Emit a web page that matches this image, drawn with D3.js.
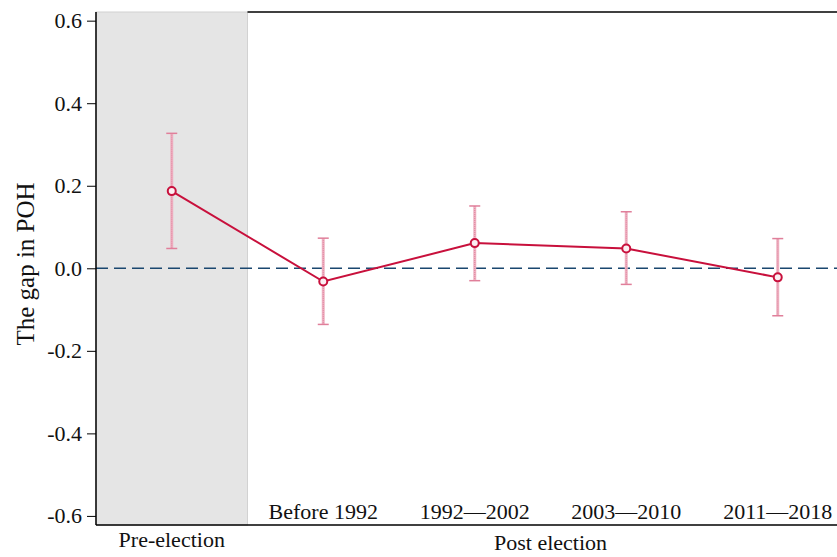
<!DOCTYPE html>
<html>
<head>
<meta charset="utf-8">
<script src="https://cdn.jsdelivr.net/npm/d3@7"></script>
<style>
  body { margin: 0; background: #fff; }
  svg { display: block; }
  text { font-family: "Palatino Linotype", "Book Antiqua", Palatino, "Liberation Serif", serif; fill: #111; }
</style>
</head>
<body>
<svg class="chart"></svg>
<script>
// Categories along the x axis and the group they belong to
var categories = ["Pre-election", "Before 1992", "1992\u20142002", "2003\u20142010", "2011\u20142018"];
var groups = ["Pre-election", "Post election", "Post election", "Post election", "Post election"];

// Point estimates and confidence bounds
var estimates = [0.187, -0.032, 0.061, 0.048, -0.022];
var upper = [0.327, 0.073, 0.151, 0.137, 0.072];
var lower = [0.048, -0.136, -0.030, -0.039, -0.115];

// Y axis ticks
var yTicks = [-0.6, -0.4, -0.2, 0.0, 0.2, 0.4, 0.6];

var width = 837, height = 557;
var margin = {left: 96, top: 12, bottom: 32};
var bandW = 151.5;
var fontSize = "22px";

var svg = d3.select(".chart")
    .attr("width", width)
    .attr("height", height);

var x = d3.scaleBand()
    .domain(categories)
    .range([margin.left, margin.left + bandW * categories.length])
    .padding(0);

var y = d3.scaleLinear()
    .domain([-0.622, 0.621])
    .range([height - margin.bottom, margin.top]);

var cx = function(d, i) { return x(categories[i]) + x.bandwidth() / 2; };

// Shaded pre-election region
svg.append("rect")
    .attr("x", x(categories[0]))
    .attr("y", y(0.621))
    .attr("width", x.bandwidth())
    .attr("height", y(-0.622) - y(0.621))
    .attr("fill", "#e5e5e5")
    .attr("stroke", "#d2d2d2")
    .attr("stroke-width", 1);

// Top frame line over the post-election area
svg.append("line")
    .attr("x1", x(categories[1]))
    .attr("x2", width)
    .attr("y1", y(0.621))
    .attr("y2", y(0.621))
    .attr("stroke", "#000")
    .attr("stroke-width", 1.5);

// Zero reference line
svg.append("line")
    .attr("x1", margin.left)
    .attr("x2", width)
    .attr("y1", y(0))
    .attr("y2", y(0))
    .attr("stroke", "#1a476f")
    .attr("stroke-width", 1.5)
    .attr("stroke-dasharray", "12,6");

// Y axis
var yAxis = svg.append("g")
    .attr("transform", "translate(" + margin.left + ",0)")
    .call(d3.axisLeft(y).tickValues(yTicks).tickSize(9).tickPadding(5)
        .tickFormat(function(d) { return d.toFixed(1); }));
yAxis.attr("font-family", null).attr("font-size", null);
yAxis.select(".domain").attr("stroke", "#000").attr("stroke-width", 1.5)
    .attr("d", "M0," + y(0.621) + "V" + y(-0.622));
yAxis.selectAll(".tick line").attr("stroke", "#000").attr("stroke-width", 1);
yAxis.selectAll(".tick text")
    .style("font-size", fontSize)
    .attr("fill", "#111");

// Bottom axis line
svg.append("line")
    .attr("x1", margin.left)
    .attr("x2", width)
    .attr("y1", y(-0.622))
    .attr("y2", y(-0.622))
    .attr("stroke", "#000")
    .attr("stroke-width", 1.5);

// Y axis title
svg.append("text")
    .attr("transform", "translate(34,264) rotate(-90)")
    .attr("text-anchor", "middle")
    .style("font-size", "25px")
    .text("The gap in POH");

// Category labels: post-election periods sit inside the plot, above the axis
svg.selectAll(".cat")
    .data(categories)
    .enter().append("text")
    .attr("class", "cat")
    .attr("x", function(d) { return x(d) + x.bandwidth() / 2; })
    .attr("y", function(d, i) { return groups[i] === "Pre-election" ? 547 : 519; })
    .attr("text-anchor", "middle")
    .style("font-size", fontSize)
    .text(function(d) { return d; });

// Group label for post-election periods
var post = categories.filter(function(d, i) { return groups[i] === "Post election"; });
svg.append("text")
    .attr("x", (x(post[0]) + x(post[post.length - 1]) + x.bandwidth()) / 2)
    .attr("y", 550)
    .attr("text-anchor", "middle")
    .style("font-size", fontSize)
    .text("Post election");

// Error bars
var bars = svg.append("g");
bars.selectAll(".ci")
    .data(estimates)
    .enter().append("line")
    .attr("x1", cx).attr("x2", cx)
    .attr("y1", function(d, i) { return y(upper[i]); })
    .attr("y2", function(d, i) { return y(lower[i]); })
    .attr("stroke", "#eeb3c3")
    .attr("stroke-width", 3);
bars.selectAll(".ci2")
    .data(estimates)
    .enter().append("line")
    .attr("x1", cx).attr("x2", cx)
    .attr("y1", function(d, i) { return y(upper[i]); })
    .attr("y2", function(d, i) { return y(lower[i]); })
    .attr("stroke", "#e07f9a")
    .attr("stroke-width", 1)
    .attr("stroke-dasharray", "1,1");
[upper, lower].forEach(function(b) {
    bars.selectAll(null)
        .data(b)
        .enter().append("line")
        .attr("x1", function(d, i) { return cx(d, i) - 5.5; })
        .attr("x2", function(d, i) { return cx(d, i) + 5.5; })
        .attr("y1", function(d) { return y(d); })
        .attr("y2", function(d) { return y(d); })
        .attr("stroke", "#e07f9a")
        .attr("stroke-width", 1.5);
});

// Connecting line
var line = d3.line()
    .x(function(d, i) { return cx(d, i); })
    .y(function(d) { return y(d); });
svg.append("path")
    .datum(estimates)
    .attr("d", line)
    .attr("fill", "none")
    .attr("stroke", "#c8103c")
    .attr("stroke-width", 2);

// Hollow markers
svg.selectAll(".pt")
    .data(estimates)
    .enter().append("circle")
    .attr("class", "pt")
    .attr("cx", cx)
    .attr("cy", function(d) { return y(d); })
    .attr("r", 4)
    .attr("fill", "#fbeef2")
    .attr("stroke", "#c8103c")
    .attr("stroke-width", 2);
</script>
</body>
</html>
